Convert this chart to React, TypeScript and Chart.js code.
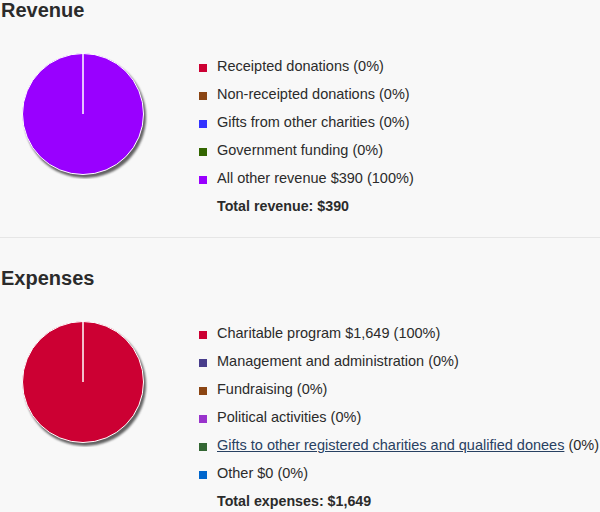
import React, { useEffect, useRef } from "react";
import { Chart, registerables } from "chart.js";

Chart.register(...registerables);

// ---------- data ----------
const revenueLabels = [
  "Receipted donations",
  "Non-receipted donations",
  "Gifts from other charities",
  "Government funding",
  "All other revenue",
];
const revenueValues = [0, 0, 0, 0, 390];
const revenueAmountText = ["", "", "", "", "$390"];
const revenuePercent = ["0%", "0%", "0%", "0%", "100%"];
const revenueColors = ["#cc0033", "#8b4513", "#3333ff", "#336600", "#9900ff"];
const revenueTotal = "Total revenue: $390";

const expenseLabels = [
  "Charitable program",
  "Management and administration",
  "Fundraising",
  "Political activities",
  "Gifts to other registered charities and qualified donees",
  "Other",
];
const expenseValues = [1649, 0, 0, 0, 0, 0];
const expenseAmountText = ["$1,649", "", "", "", "", "$0"];
const expensePercent = ["100%", "0%", "0%", "0%", "0%", "0%"];
const expenseColors = ["#cc0033", "#483d8b", "#8b4513", "#9933cc", "#336633", "#0066cc"];
const expenseLinks = [false, false, false, false, true, false];
const expenseTotal = "Total expenses: $1,649";

// ---------- shadow plugin ----------
const shadowPlugin = {
  id: "pieShadow",
  beforeDatasetsDraw(chart: any) {
    const ctx = chart.ctx;
    const meta = chart.getDatasetMeta(0);
    ctx.save();
    ctx.translate(2, 3);
    ctx.fillStyle = "rgba(60,60,60,0.8)";
    ctx.filter = "blur(1px)";
    meta.data.forEach((arc: any) => {
      const { x, y, startAngle, endAngle, outerRadius } = arc.getProps(
        ["x", "y", "startAngle", "endAngle", "outerRadius"],
        true
      );
      if (endAngle - startAngle <= 0) return;
      ctx.beginPath();
      ctx.moveTo(x, y);
      ctx.arc(x, y, outerRadius + 0.5, startAngle, endAngle);
      ctx.closePath();
      ctx.fill();
    });
    ctx.restore();
  },
};

function Pie({ values, colors, top }: { values: number[]; colors: string[]; top: number }) {
  const ref = useRef<HTMLCanvasElement | null>(null);
  useEffect(() => {
    if (!ref.current) return;
    const chart = new Chart(ref.current, {
      type: "pie",
      data: {
        labels: values.map((_, i) => String(i)),
        datasets: [
          {
            data: values,
            backgroundColor: colors,
            borderColor: "#ffffff",
            borderWidth: 1,
          },
        ],
      },
      options: {
        animation: false,
        responsive: false,
        maintainAspectRatio: false,
        layout: { padding: { top: 4, bottom: 4, left: 0, right: 0 } },
        plugins: { legend: { display: false }, tooltip: { enabled: false } },
      },
      plugins: [shadowPlugin],
    });
    return () => chart.destroy();
  }, []);
  return (
    <div style={{ position: "absolute", left: 0, top, width: 166, height: 130 }}>
      <canvas ref={ref} width={166} height={130} style={{ width: 166, height: 130 }} />
    </div>
  );
}

const textColor = "#2b2b2b";

function LegendRow({
  top,
  color,
  children,
}: {
  top: number;
  color?: string;
  children: React.ReactNode;
}) {
  return (
    <div
      style={{
        position: "absolute",
        left: 199,
        top,
        height: 28,
        lineHeight: "28px",
        whiteSpace: "nowrap",
        fontSize: 14.5,
        color: textColor,
      }}
    >
      {color ? (
        <span
          style={{
            display: "inline-block",
            width: 8,
            height: 8,
            background: color,
            marginRight: 10,
            verticalAlign: "-0.5px",
          }}
        />
      ) : (
        <span style={{ display: "inline-block", width: 18 }} />
      )}
      {children}
    </div>
  );
}

export default function App() {
  useEffect(() => {
    document.body.style.margin = "0";
  }, []);
  const font = "'Liberation Sans', Arial, sans-serif";
  return (
    <div
      style={{
        position: "absolute",
        left: 0,
        top: 0,
        width: 600,
        height: 512,
        background: "#f8f8f8",
        fontFamily: font,
        overflow: "hidden",
      }}
    >
      <div
        style={{
          position: "absolute",
          left: 1,
          top: -2,
          fontSize: 20,
          fontWeight: "bold",
          color: textColor,
          lineHeight: "24px",
        }}
      >
        Revenue
      </div>
      <Pie values={revenueValues} colors={revenueColors} top={49} />
      {revenueLabels.map((label, i) => (
        <LegendRow key={label} top={52 + 28 * i} color={revenueColors[i]}>
          {label}
          {revenueAmountText[i] ? " " + revenueAmountText[i] : ""} ({revenuePercent[i]})
        </LegendRow>
      ))}
      <LegendRow top={52 + 28 * revenueLabels.length}>
        <b style={{ fontSize: 14.25 }}>{revenueTotal}</b>
      </LegendRow>

      <div
        style={{
          position: "absolute",
          left: 0,
          top: 237,
          width: 600,
          height: 1,
          background: "#e6e6e6",
        }}
      />

      <div
        style={{
          position: "absolute",
          left: 1,
          top: 266,
          fontSize: 20,
          fontWeight: "bold",
          color: textColor,
          lineHeight: "24px",
        }}
      >
        Expenses
      </div>
      <Pie values={expenseValues} colors={expenseColors} top={317} />
      {expenseLabels.map((label, i) => (
        <LegendRow key={label} top={319 + 28 * i} color={expenseColors[i]}>
          {expenseLinks[i] ? (
            <span style={{ color: "#284162", textDecoration: "underline" }}>{label}</span>
          ) : (
            label
          )}
          {expenseAmountText[i] ? " " + expenseAmountText[i] : ""} ({expensePercent[i]})
        </LegendRow>
      ))}
      <LegendRow top={319 + 28 * expenseLabels.length}>
        <b style={{ fontSize: 14.25 }}>{expenseTotal}</b>
      </LegendRow>
    </div>
  );
}
